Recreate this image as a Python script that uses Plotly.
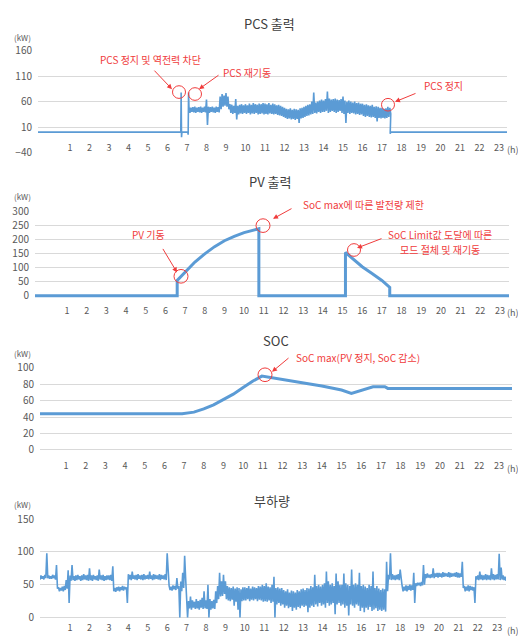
import numpy as np
import plotly.graph_objects as go

# ---------------- data ----------------
hours = list(range(1, 24))
hour_text = [str(h) for h in hours]

# PCS output (kW): switching events, then a noisy band given as high/low per 0.1 h
pcs_pre_x = [-0.7, 6.68, 6.70, 6.72, 6.74, 7.04, 7.06, 7.08]
pcs_pre_y = [0, 0, 78, -10, 0, 0, -5, 78]
pcs_band_start = 7.1
pcs_band_hi = [
    50, 48, 49, 50, 48, 49, 50, 48, 50,                # 7.1 - 7.9
    64, 50, 49, 50, 48, 50, 49, 70, 75, 72,            # 8
    77, 70, 55, 54, 52, 65, 52, 54, 55, 53,            # 9
    55, 53, 56, 54, 57, 55, 54, 56, 55, 57,            # 10
    56, 55, 57, 54, 56, 55, 53, 54, 52, 50,            # 11
    48, 46, 45, 47, 44, 46, 45, 44, 47, 48,            # 12
    50, 52, 54, 55, 60, 78, 58, 60, 62, 64,            # 13
    62, 65, 80, 66, 64, 65, 66, 64, 63, 65,            # 14
    70, 62, 60, 62, 60, 58, 60, 57, 58, 56,            # 15
    56, 54, 55, 53, 52, 54, 50, 51, 50, 48,            # 16
    48, 46, 47, 50, 48,                                # 17.0 - 17.4
]
pcs_band_lo = [
    38, 40, 39, 38, 40, 39, 38, 40, 39,
    14, 38, 40, 39, 38, 40, 39, 45, 50, 52,
    50, 45, 38, 36, 38, 25, 35, 37, 36, 38,
    36, 38, 35, 37, 36, 38, 35, 36, 37, 35,
    36, 35, 37, 36, 35, 36, 34, 33, 32, 30,
    28, 26, 27, 25, 26, 24, 26, 18, 27, 28,
    30, 32, 33, 35, 36, 38, 37, 40, 38, 40,
    40, 42, 38, 40, 42, 40, 38, 40, 42, 38,
    36, 18, 38, 36, 38, 37, 35, 36, 34, 35,
    32, 30, 32, 30, 29, 30, 28, 21, 28, 27,
    28, 27, 28, 30, 36,
]
pcs_post_x = [17.42, 17.45, 23.7]
pcs_post_y = [-3, 0, 0]
pcs_yticks = [-40, 10, 60, 110, 160]

# PV output (kW)
pv_x = [-0.7, 6.6, 6.6, 7.0, 7.5, 8.0, 8.5, 9.0, 9.5, 10.0, 10.5, 10.75, 10.75,
        15.15, 15.15, 15.5, 16.0, 16.5, 17.0, 17.4, 17.4, 23.7]
pv_y = [0, 0, 55, 85, 121, 150, 176, 197, 213, 226, 235, 240, 0,
        0, 155, 135, 104, 80, 55, 30, 0, 0]
pv_yticks = [0, 50, 100, 150, 200, 250, 300]

# SOC
soc_x = [-0.5, 6.9, 7.5, 8.0, 8.5, 9.0, 9.5, 10.0, 10.5, 10.95, 11.5, 12.0, 13.0,
         14.0, 15.0, 15.5, 16.0, 16.6, 17.2, 17.35, 23.8]
soc_y = [44, 44, 46, 50, 55, 61, 68, 76, 84, 90, 88, 86, 82,
         78, 73, 69, 73, 77, 77, 75, 75]
soc_yticks = [0, 20, 40, 60, 80, 100]

# Load (kW): high / low envelope for every 0.1 h starting at -0.6 h
load_start = -0.6
load_hi = [
    62, 64, 63, 65, 98, 64,                            # -0.6 .. -0.1
    63, 65, 64, 80, 46, 45, 47, 48, 57, 72,            # 0
    64, 80, 63, 64, 65, 63, 64, 66, 64, 65,            # 1
    75, 64, 65, 63, 64, 73, 64, 65, 63, 64,            # 2
    64, 65, 78, 45, 46, 47, 46, 48, 47, 46,            # 3
    66, 65, 70, 64, 65, 66, 64, 65, 66, 64,            # 4
    65, 70, 64, 66, 65, 64, 66, 65, 64, 66,            # 5
    98, 48, 47, 49, 48, 60, 48, 55, 68, 94,            # 6
    30, 25, 32, 26, 24, 28, 25, 27, 30, 40,            # 7
    26, 50, 28, 25, 27, 40, 48, 68, 55, 65,            # 8
    55, 48, 46, 45, 47, 44, 46, 45, 43, 46,            # 9
    46, 45, 48, 44, 47, 46, 45, 48, 47, 50,            # 10
    48, 52, 47, 46, 50, 62, 45, 46, 44, 45,            # 11
    42, 40, 43, 38, 41, 40, 38, 42, 40, 43,            # 12
    44, 42, 45, 44, 48, 46, 65, 48, 50, 47,            # 13
    50, 52, 70, 55, 50, 52, 48, 67, 55, 50,            # 14
    50, 67, 52, 50, 48, 73, 50, 52, 50, 68,            # 15
    48, 50, 47, 45, 50, 48, 70, 45, 48, 44,            # 16
    42, 44, 43, 85, 65, 98, 66, 64, 65, 66,            # 17
    73, 48, 47, 49, 48, 50, 49, 68, 52, 53,            # 18
    53, 54, 80, 66, 67, 65, 66, 75, 67, 68,            # 19
    68, 67, 69, 68, 67, 69, 68, 67, 68, 69,            # 20
    68, 67, 85, 48, 47, 49, 48, 47, 46, 63,            # 21
    64, 70, 65, 64, 66, 65, 64, 75, 66, 65,            # 22
    66, 97, 76, 64, 62,                                # 23.0 .. 23.4
]
load_lo = [
    58, 59, 58, 60, 60, 59,
    59, 60, 58, 44, 40, 41, 40, 42, 44, 22,
    56, 57, 56, 57, 58, 56, 57, 58, 57, 56,
    57, 56, 58, 57, 56, 58, 57, 56, 57, 58,
    57, 56, 40, 39, 41, 40, 42, 41, 43, 22,
    58, 57, 59, 58, 57, 59, 58, 57, 58, 59,
    58, 59, 57, 58, 59, 58, 57, 59, 58, 57,
    58, 42, 41, 43, 42, 44, 0, 40, 45, 60,
    0, 14, 12, 15, 13, 14, 12, 15, 13, 14,
    13, 0, 12, 14, 13, 22, 28, 32, 33, 36,
    28, 26, 25, 27, 18, 24, 12, 0, 25, 26,
    26, 28, 25, 27, 26, 28, 25, 27, 26, 24,
    25, 24, 26, 22, 24, 0, 20, 22, 18, 20,
    15, 18, 14, 16, 10, 15, 12, 16, 14, 18,
    16, 18, 8, 15, 18, 16, 20, 17, 22, 18,
    20, 15, 22, 18, 20, 22, 5, 20, 22, 18,
    20, 15, 18, 3, 20, 18, 15, 20, 18, 10,
    15, 8, 15, 12, 16, 10, 12, 14, 10, 12,
    10, 12, 9, 40, 58, 57, 58, 57, 58, 57,
    58, 40, 41, 40, 42, 41, 42, 22, 48, 49,
    48, 49, 50, 60, 61, 60, 61, 60, 62, 61,
    62, 61, 62, 63, 62, 61, 62, 63, 62, 61,
    61, 62, 45, 40, 41, 40, 42, 41, 22, 58,
    57, 58, 57, 58, 57, 58, 57, 58, 57, 58,
    58, 57, 58, 57, 56,
]
load_yticks = [0, 50, 100, 150]

titles = ["PCS 출력", "PV 출력", "SOC", "부하량"]

# ---------------- build ----------------
WIN_W, WIN_H = 526, 644
OFF = 8                                   # page body margin (top / left)
W, H = WIN_W - OFF, WIN_H - OFF           # figure fills the window to its right / bottom edge
BLUE = "#5b9bd5"
RED = "#f03c3c"
GRAY = "#595959"
FONT = "Noto Sans CJK KR"


def fx(p):
    return (p - OFF) / W


def fy(p):
    return 1 - (p - OFF) / H


def zigzag(start, hi, lo):
    xs, ys = [], []
    for k, (a, b) in enumerate(zip(hi, lo)):
        t = start + 0.1 * k
        xs += [round(t, 3), round(t + 0.05, 3)]
        ys += [a, b]
    return xs, ys


bx, by = zigzag(pcs_band_start, pcs_band_hi, pcs_band_lo)
pcs_x = pcs_pre_x + bx + pcs_post_x
pcs_y = pcs_pre_y + by + pcs_post_y
load_x, load_y = zigzag(load_start, load_hi, load_lo)

panels = [
    dict(x=pcs_x, y=pcs_y, w=1.6, px=(38, 507), py=(42.7, 147), yr=[-40, 160], yt=pcs_yticks,
         xr=[-0.64, 23.41], title_y=15, kw_y=29, lab_y=144, xso=-12),
    dict(x=pv_x, y=pv_y, w=3.0, px=(35, 509), py=(208, 296.3), yr=[-8, 300], yt=pv_yticks,
         xr=[-0.625, 23.46], title_y=177, kw_y=192, lab_y=311, xso=6),
    dict(x=soc_x, y=soc_y, w=3.0, px=(40, 512), py=(368, 454.5), yr=[-3, 100], yt=soc_yticks,
         xr=[-0.32, 23.66], title_y=340, kw_y=353, lab_y=471, xso=7),
    dict(x=load_x, y=load_y, w=1.6, px=(40, 506), py=(523, 626.7), yr=[-4, 150], yt=load_yticks,
         xr=[-0.55, 23.45], title_y=504, kw_y=508, lab_y=637, xso=1),
]
title_x = [269, 270, 276, 272]

fig = go.Figure()
layout = {}
annotations = []
for i, p in enumerate(panels, start=1):
    sfx = "" if i == 1 else str(i)
    fig.add_trace(go.Scatter(x=p["x"], y=p["y"], mode="lines",
                             line=dict(color=BLUE, width=p["w"]),
                             xaxis="x" + sfx, yaxis="y" + sfx,
                             showlegend=False, hoverinfo="skip"))
    layout["xaxis" + sfx] = dict(domain=[fx(p["px"][0]), fx(p["px"][1])], range=p["xr"],
                                 anchor="y" + sfx, tickmode="array", tickvals=hours,
                                 ticktext=hour_text, showgrid=False, zeroline=False,
                                 showline=False, ticks="", ticklabelstandoff=p["xso"],
                                 tickfont=dict(size=9, color=GRAY, family=FONT))
    layout["yaxis" + sfx] = dict(domain=[fy(p["py"][1]), fy(p["py"][0])], range=p["yr"],
                                 anchor="x" + sfx, tickmode="array", tickvals=p["yt"],
                                 showgrid=True, gridcolor="#d9d9d9", gridwidth=1,
                                 zeroline=False, showline=False, ticks="",
                                 ticklabelstandoff=5,
                                 tickfont=dict(size=10, color=GRAY, family=FONT))
    annotations.append(dict(text=titles[i - 1], x=fx(title_x[i - 1]), y=fy(p["title_y"]),
                            xref="paper", yref="paper", showarrow=False,
                            xanchor="center", yanchor="middle",
                            font=dict(size=13, color="#404040", family=FONT)))
    annotations.append(dict(text="(kW)", x=fx(22), y=fy(p["kw_y"]), xref="paper", yref="paper",
                            showarrow=False, xanchor="center", yanchor="middle",
                            font=dict(size=8, color=GRAY, family=FONT)))
    annotations.append(dict(text="(h)", x=fx(513), y=fy(p["lab_y"]), xref="paper",
                            yref="paper", showarrow=False, xanchor="center", yanchor="middle",
                            font=dict(size=9, color=GRAY, family=FONT)))

# red notes (window pixel positions)
notes = [
    ("PCS 정지 및 역전력 차단", 150, 52),
    ("PCS 재기동", 247, 65),
    ("PCS 정지", 443, 78),
    ("SoC max에 따른 발전량 제한", 363, 200),
    ("PV 기동", 148, 231),
    ("SoC Limit값 도달에 따른", 440, 231),
    ("모드 절체 및 재기동", 440, 246),
    ("SoC max(PV 정지, SoC 감소)", 358, 357),
]
for t, x, y in notes:
    annotations.append(dict(text=t, x=fx(x), y=fy(y), xref="paper", yref="paper",
                            showarrow=False, xanchor="center", yanchor="middle",
                            font=dict(size=10, color=RED, family=FONT)))

arrows = [  # tail -> head (pixels)
    ((153, 62), (172, 82)),
    ((220, 67), (199, 82)),
    ((417, 86), (395, 95)),
    ((162, 245), (177, 270)),
    ((293, 204), (273, 215)),
    ((383, 235), (357, 245)),
    ((290, 357), (272, 372)),
]
for (tx, ty), (hx, hy) in arrows:
    annotations.append(dict(text="", x=fx(hx), y=fy(hy), ax=tx - hx, ay=ty - hy,
                            xref="paper", yref="paper",
                            showarrow=True, arrowhead=2, arrowsize=1, arrowwidth=1,
                            arrowcolor=RED))

circles = [(179, 85, 6.5), (195, 87, 6.5), (388, 98, 6.5),
           (181, 274, 7), (263, 222, 7), (354, 247, 6.5),
           (265, 375, 7)]
shapes = []
for cx, cy, r in circles:
    shapes.append(dict(type="circle", xref="paper", yref="paper",
                       x0=fx(cx - r), x1=fx(cx + r), y0=fy(cy + r), y1=fy(cy - r),
                       line=dict(color=RED, width=1)))

fig.update_layout(width=W, height=H, autosize=False,
                  margin=dict(l=0, r=0, t=0, b=0),
                  paper_bgcolor="white", plot_bgcolor="white",
                  font=dict(family=FONT), annotations=annotations, shapes=shapes,
                  **layout)
fig.write_html("out.html")
